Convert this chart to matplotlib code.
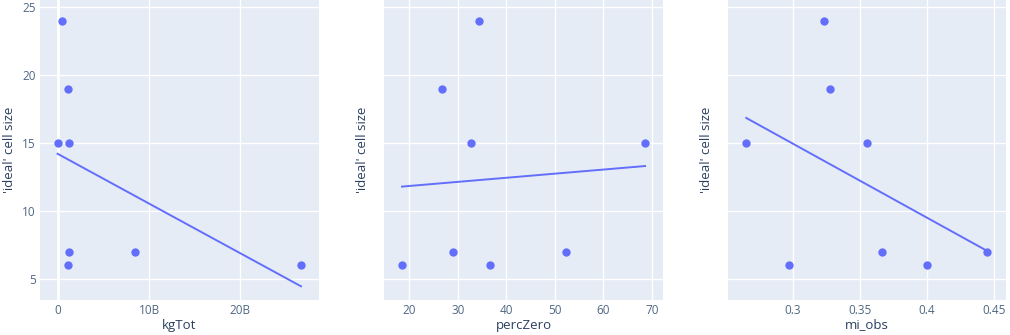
import numpy as np
import matplotlib
matplotlib.use('Agg')
import matplotlib.pyplot as plt
from matplotlib.ticker import FuncFormatter

# 'ideal' cell size vs three predictors
cellSize = [24, 19, 15, 15, 7, 6, 7, 6]
kgTot = [0.4e9, 1.06e9, -0.05e9, 1.2e9, 1.25e9, 1.13e9, 8.42e9, 26.7e9]

cellSizeB = [24, 19, 15, 15, 7, 6, 6, 7]
percZero = [34.37, 26.8, 32.65, 68.6, 29.0, 18.49, 36.7, 52.4]

cellSizeC = [24, 19, 15, 15, 7, 6, 6, 7]
miObs = [0.3234, 0.3279, 0.2655, 0.3553, 0.3669, 0.2975, 0.4004, 0.4451]

xTicks1 = [0, 10e9, 20e9]
xTicks2 = [20, 30, 40, 50, 60, 70]
xTicks3 = [0.3, 0.35, 0.4, 0.45]
yTicks = [5, 10, 15, 20, 25]

bgColor = '#E5ECF6'
dotColor = '#636EFA'
textColor = '#506784'

plt.rcParams['font.family'] = ['Open Sans', 'DejaVu Sans']

fig = plt.figure(figsize=(10.1, 3.35), dpi=100)
W, H = 1010.0, 335.0
top, bottom = 0, 300

def billions(v, pos):
    if v == 0:
        return '0'
    return '%dB' % round(v / 1e9)

def makePanel(left, width, xs, ys, xlabel, xticks, xlim, showY, ylabX, fmt=None):
    ax = fig.add_axes([left / W, (H - bottom) / H, width / W, (bottom - top) / H])
    ax.set_facecolor(bgColor)
    for s in ax.spines.values():
        s.set_visible(False)
    ax.set_axisbelow(True)
    ax.grid(color='white', linewidth=1.0)
    ax.set_yticks(yTicks)
    ax.set_xticks(xticks)
    ax.set_xlim(*xlim)
    ax.set_ylim(3.45, 25.55)
    ax.tick_params(length=0, labelsize=8.5, labelcolor=textColor, pad=3)
    if not showY:
        ax.set_yticklabels([])
    if fmt is not None:
        ax.xaxis.set_major_formatter(FuncFormatter(fmt))
    ax.scatter(xs, ys, s=36, color=dotColor, zorder=3, linewidths=0)
    k, b = np.polyfit(xs, ys, 1)
    xl = np.array([min(xs), max(xs)])
    ax.plot(xl, k * xl + b, color=dotColor, linewidth=1.4, zorder=2)
    ax.set_xlabel(xlabel, fontsize=9.5, color='#2a3f5f', va='center')
    ax.set_ylabel("'ideal' cell size", fontsize=9.5, color='#2a3f5f', va='center')
    ax.xaxis.set_label_coords(0.5, -25.0 / 300)
    ax.yaxis.set_label_coords(ylabX, 0.5)
    return ax

ax1 = makePanel(40, 279, kgTot, cellSize, 'kgTot', xTicks1, (-1.98e9, 28.68e9), True, -30.0 / 279, billions)
ax1.axvline(0, color='white', linewidth=2, zorder=1)
ax2 = makePanel(384, 279, percZero, cellSizeB, 'percZero', xTicks2, (14.78, 72.3), False, -21.0 / 279)
ax3 = makePanel(728, 278, miObs, cellSizeC, 'mi_obs', xTicks3, (0.2519, 0.4591), False, -22.0 / 278)
ax3.xaxis.set_major_formatter(FuncFormatter(lambda v, p: ('%g' % round(v, 3))))

fig.savefig('out.png', dpi=100, facecolor='white')
